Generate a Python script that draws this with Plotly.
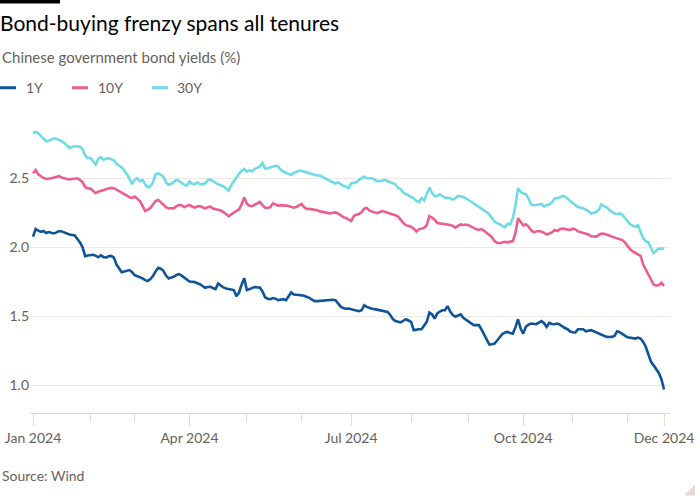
import pandas as pd
import plotly.graph_objects as go

# ---------------- data ----------------
# Trading calendar of the Chinese bond market, 2 Jan – 20 Dec 2024
holidays = ["2024-01-01", "2024-02-09", "2024-02-12", "2024-02-13", "2024-02-14",
            "2024-02-15", "2024-02-16", "2024-04-04", "2024-04-05", "2024-05-01",
            "2024-05-02", "2024-05-03", "2024-06-10", "2024-09-16", "2024-09-17",
            "2024-10-01", "2024-10-02", "2024-10-03", "2024-10-04", "2024-10-07"]
weekend_workdays = ["2024-02-04", "2024-02-18", "2024-04-07", "2024-04-28",
                    "2024-05-11", "2024-09-14", "2024-09-29", "2024-10-12"]

trading_days = pd.bdate_range("2024-01-02", "2024-12-20")
trading_days = trading_days.drop(pd.to_datetime(holidays), errors="ignore")
trading_days = trading_days.union(pd.to_datetime(weekend_workdays)).sort_values()
dates = [d.strftime("%Y-%m-%d") for d in trading_days]

yield_1y = [
    2.077, 2.132, 2.12, 2.112, 2.118, 2.103, 2.11, 2.105, 2.1, 2.108,
    2.118, 2.115, 2.105, 2.1, 2.092, 2.088, 2.085, 2.06, 2.035, 2.0,
    1.935, 1.94, 1.944, 1.946, 1.94, 1.928, 1.942, 1.93, 1.925, 1.935,
    1.938, 1.925, 1.875, 1.845, 1.82, 1.825, 1.832, 1.835, 1.82, 1.798,
    1.79, 1.785, 1.775, 1.762, 1.755, 1.77, 1.792, 1.825, 1.852, 1.845,
    1.83, 1.795, 1.774, 1.782, 1.786, 1.8, 1.806, 1.795, 1.78, 1.762,
    1.752, 1.75, 1.748, 1.74, 1.733, 1.72, 1.707, 1.712, 1.714, 1.705,
    1.697, 1.738, 1.72, 1.709, 1.702, 1.697, 1.694, 1.69, 1.645, 1.672,
    1.73, 1.775, 1.69, 1.698, 1.705, 1.712, 1.71, 1.709, 1.68, 1.638,
    1.628, 1.624, 1.632, 1.628, 1.617, 1.622, 1.624, 1.617, 1.648, 1.673,
    1.658, 1.654, 1.654, 1.652, 1.649, 1.64, 1.634, 1.62, 1.61, 1.61,
    1.612, 1.615, 1.617, 1.62, 1.622, 1.62, 1.617, 1.595, 1.57, 1.56,
    1.555, 1.557, 1.552, 1.552, 1.545, 1.537, 1.544, 1.58, 1.568, 1.56,
    1.555, 1.552, 1.548, 1.544, 1.538, 1.532, 1.532, 1.51, 1.48, 1.466,
    1.46, 1.456, 1.468, 1.479, 1.47, 1.46, 1.40, 1.405, 1.407, 1.407,
    1.43, 1.46, 1.527, 1.515, 1.484, 1.52, 1.535, 1.544, 1.544, 1.574,
    1.535, 1.51, 1.497, 1.508, 1.515, 1.49, 1.475, 1.46, 1.448, 1.436,
    1.436, 1.436, 1.405, 1.37, 1.327, 1.295, 1.298, 1.303, 1.325, 1.35,
    1.372, 1.383, 1.387, 1.38, 1.375, 1.42, 1.479, 1.412, 1.375, 1.425,
    1.44, 1.448, 1.445, 1.443, 1.455, 1.465, 1.45, 1.424, 1.453, 1.445,
    1.443, 1.448, 1.44, 1.424, 1.415, 1.407, 1.39, 1.385, 1.383, 1.407,
    1.405, 1.407, 1.392, 1.395, 1.4, 1.392, 1.383, 1.375, 1.368, 1.36,
    1.351, 1.35, 1.351, 1.358, 1.392, 1.385, 1.375, 1.36, 1.348, 1.344,
    1.34, 1.339, 1.346, 1.339, 1.315, 1.28, 1.225, 1.17, 1.145, 1.118,
    1.09, 1.045, 0.97,
]

yield_10y = [
    2.536, 2.56, 2.528, 2.512, 2.502, 2.495, 2.495, 2.5, 2.505, 2.512,
    2.515, 2.505, 2.498, 2.494, 2.492, 2.495, 2.498, 2.5, 2.488, 2.47,
    2.435, 2.427, 2.425, 2.405, 2.392, 2.403, 2.41, 2.415, 2.42, 2.425,
    2.43, 2.428, 2.418, 2.41, 2.4, 2.385, 2.375, 2.362, 2.358, 2.367,
    2.352, 2.335, 2.3, 2.263, 2.272, 2.285, 2.31, 2.335, 2.343, 2.325,
    2.306, 2.29, 2.282, 2.28, 2.283, 2.298, 2.306, 2.305, 2.29, 2.3,
    2.306, 2.295, 2.288, 2.295, 2.299, 2.29, 2.282, 2.29, 2.294, 2.28,
    2.275, 2.272, 2.266, 2.255, 2.24, 2.225, 2.238, 2.252, 2.262, 2.275,
    2.31, 2.36, 2.315, 2.3, 2.298, 2.31, 2.318, 2.328, 2.305, 2.287,
    2.285, 2.29, 2.318, 2.31, 2.302, 2.305, 2.306, 2.302, 2.299, 2.29,
    2.287, 2.292, 2.302, 2.314, 2.29, 2.277, 2.278, 2.276, 2.272, 2.268,
    2.26, 2.256, 2.253, 2.25, 2.246, 2.25, 2.253, 2.245, 2.23, 2.218,
    2.212, 2.203, 2.19, 2.225, 2.236, 2.24, 2.255, 2.28, 2.285, 2.265,
    2.258, 2.253, 2.247, 2.255, 2.262, 2.256, 2.25, 2.246, 2.238, 2.232,
    2.222, 2.195, 2.175, 2.16, 2.155, 2.149, 2.135, 2.115, 2.13, 2.135,
    2.14, 2.16, 2.225, 2.215, 2.2, 2.175, 2.172, 2.174, 2.168, 2.165,
    2.162, 2.155, 2.142, 2.155, 2.166, 2.162, 2.165, 2.16, 2.148, 2.14,
    2.13, 2.126, 2.132, 2.12, 2.108, 2.09, 2.072, 2.045, 2.033, 2.03,
    2.035, 2.04, 2.036, 2.038, 2.045, 2.1, 2.21, 2.185, 2.158, 2.166,
    2.15, 2.125, 2.108, 2.115, 2.118, 2.112, 2.105, 2.092, 2.1, 2.108,
    2.125, 2.118, 2.13, 2.135, 2.132, 2.128, 2.125, 2.135, 2.13, 2.115,
    2.11, 2.108, 2.1, 2.093, 2.08, 2.077, 2.077, 2.09, 2.1, 2.098,
    2.093, 2.085, 2.077, 2.07, 2.062, 2.055, 2.052, 2.035, 2.005, 1.985,
    1.97, 1.958, 1.95, 1.938, 1.875, 1.84, 1.805, 1.772, 1.73, 1.722,
    1.726, 1.742, 1.72,
]

yield_30y = [
    2.827, 2.835, 2.825, 2.805, 2.785, 2.768, 2.772, 2.778, 2.789, 2.785,
    2.778, 2.768, 2.755, 2.735, 2.72, 2.728, 2.73, 2.732, 2.728, 2.71,
    2.665, 2.645, 2.648, 2.625, 2.6, 2.64, 2.652, 2.635, 2.642, 2.645,
    2.638, 2.63, 2.605, 2.59, 2.578, 2.555, 2.53, 2.495, 2.458, 2.49,
    2.5, 2.478, 2.488, 2.455, 2.435, 2.44, 2.47, 2.53, 2.535, 2.525,
    2.51, 2.47, 2.452, 2.46, 2.475, 2.488, 2.48, 2.468, 2.452, 2.447,
    2.476, 2.46, 2.456, 2.47, 2.458, 2.456, 2.464, 2.485, 2.492, 2.48,
    2.465, 2.456, 2.45, 2.442, 2.425, 2.41, 2.45, 2.48, 2.51, 2.532,
    2.555, 2.568, 2.548, 2.558, 2.55, 2.568, 2.575, 2.585, 2.61, 2.57,
    2.572, 2.578, 2.588, 2.59, 2.585, 2.56, 2.548, 2.54, 2.53, 2.524,
    2.538, 2.548, 2.556, 2.552, 2.548, 2.54, 2.536, 2.53, 2.524, 2.52,
    2.52, 2.508, 2.5, 2.49, 2.48, 2.468, 2.462, 2.47, 2.455, 2.445,
    2.44, 2.427, 2.462, 2.468, 2.47, 2.488, 2.5, 2.512, 2.5, 2.502,
    2.5, 2.49, 2.478, 2.478, 2.482, 2.488, 2.478, 2.47, 2.462, 2.456,
    2.43, 2.42, 2.395, 2.385, 2.375, 2.368, 2.355, 2.335, 2.326, 2.355,
    2.34, 2.385, 2.432, 2.395, 2.37, 2.372, 2.384, 2.37, 2.36, 2.358,
    2.355, 2.345, 2.355, 2.372, 2.368, 2.365, 2.355, 2.343, 2.33, 2.315,
    2.305, 2.294, 2.285, 2.27, 2.255, 2.238, 2.21, 2.186, 2.175, 2.168,
    2.155, 2.145, 2.17, 2.165, 2.21, 2.3, 2.427, 2.4, 2.39, 2.384,
    2.355, 2.31, 2.305, 2.306, 2.31, 2.314, 2.295, 2.306, 2.31, 2.325,
    2.352, 2.358, 2.36, 2.372, 2.366, 2.352, 2.335, 2.322, 2.305, 2.292,
    2.288, 2.282, 2.272, 2.262, 2.245, 2.248, 2.255, 2.272, 2.31, 2.298,
    2.29, 2.27, 2.255, 2.246, 2.24, 2.245, 2.235, 2.212, 2.188, 2.166,
    2.155, 2.15, 2.16, 2.11, 2.065, 2.045, 2.036, 1.995, 1.958, 1.975,
    1.992, 1.99, 1.99,
]

series_names = ["1Y", "10Y", "30Y"]
series_values = [yield_1y, yield_10y, yield_30y]
series_colors = ["#0f5499", "#eb5e8d", "#6fdbe6"]

y_tick_values = [1.0, 1.5, 2.0, 2.5]
x_major_ticks = ["2024-01-02", "2024-04-01", "2024-07-01", "2024-10-08", "2024-12-20"]
x_major_labels = ["Jan 2024", "Apr 2024", "Jul 2024", "Oct 2024", "Dec 2024"]
x_minor_ticks = ["2024-02-01", "2024-03-01", "2024-05-06", "2024-06-03",
                 "2024-08-01", "2024-09-02", "2024-11-01", "2024-12-02"]

# non-trading calendar days inside the data span -> axis breaks
all_days = pd.date_range("2024-01-02", "2024-12-20", freq="D")
break_days = [d.strftime("%Y-%m-%d") for d in all_days.difference(trading_days)]

# ---------------- layout helpers ----------------
W, H = 700, 500
L, R, T, B = 30, 670, 123.2, 412.7


def px_x(px):
    return (px - L) / (R - L)


def px_y(py):
    return (B - py) / (B - T)


FONT = "Lato, 'Open Sans', sans-serif"
GREY = "#66605c"
LINECOL = "#e6d9ce"
GRIDCOL = "#efe9e4"

fig = go.Figure()
for name, vals, col in zip(series_names[::-1], series_values[::-1], series_colors[::-1]):
    fig.add_trace(go.Scatter(x=dates, y=vals, mode="lines", name=name,
                             line=dict(color=col, width=2.6), showlegend=False,
                             hovertemplate="%{x|%d %b %Y}: %{y:.2f}%<extra>" + name + "</extra>"))

fig.update_layout(
    width=W, height=H,
    margin=dict(l=L, r=W - R, t=T, b=H - B, pad=0, autoexpand=False),
    paper_bgcolor="white", plot_bgcolor="white",
    font=dict(family=FONT, color=GREY, size=14),
    title=dict(text="Bond-buying frenzy spans all tenures", x=0, xref="container",
               xanchor="left", y=1 - 24 / H, yref="container", yanchor="middle",
               pad=dict(l=0, r=0, t=0, b=0),
               font=dict(size=21, color="#000000", family=FONT)),
    xaxis=dict(
        type="date", automargin=False,
        range=["2023-12-31 20:00", "2024-12-22 07:00"],
        rangebreaks=[dict(values=break_days)],
        tickmode="array", tickvals=x_major_ticks, ticktext=x_major_labels,
        ticks="outside", ticklen=12, tickwidth=1, tickcolor=LINECOL,
        showline=True, linecolor=LINECOL, linewidth=1,
        showgrid=False, zeroline=False,
        tickfont=dict(size=14, color=GREY),
        minor=dict(tickmode="array", tickvals=x_minor_ticks, ticks="outside",
                   ticklen=8, tickwidth=1, tickcolor=LINECOL, showgrid=False),
    ),
    yaxis=dict(
        automargin=False,
        range=[0.8, 2.9], tickmode="array", tickvals=y_tick_values, tickformat=".1f",
        showgrid=True, gridcolor=GRIDCOL, gridwidth=1, zeroline=False,
        showline=False, ticks="", tickfont=dict(size=14, color=GREY),
    ),
)

annotations = [
    dict(text="Chinese government bond yields (%)", x=px_x(0), y=px_y(57),
         xanchor="left", yanchor="middle", font=dict(size=15, color=GREY)),
    dict(text="Source: Wind", x=px_x(0), y=px_y(475),
         xanchor="left", yanchor="middle", font=dict(size=14, color=GREY)),
]
shapes = [
    dict(type="rect", x0=px_x(0), x1=px_x(60), y0=px_y(0), y1=px_y(4),
         fillcolor="#000000", line=dict(width=0)),
    dict(type="path",
         path=f"M {px_x(695)},{px_y(484)} L {px_x(695)},{px_y(495)} L {px_x(684)},{px_y(495)} Z",
         fillcolor=LINECOL, line=dict(width=0)),
]

legend_swatch_x = [0, 72, 152]
legend_text_x = [24, 96, 175]
for name, col, sx, tx in zip(series_names, series_colors, legend_swatch_x, legend_text_x):
    shapes.append(dict(type="line", x0=px_x(sx), x1=px_x(sx + 16), y0=px_y(88), y1=px_y(88),
                       line=dict(color=col, width=3)))
    annotations.append(dict(text=name, x=px_x(tx), y=px_y(88), xanchor="left",
                            yanchor="middle", font=dict(size=14, color=GREY)))

for a in annotations:
    a.update(xref="paper", yref="paper", showarrow=False)
for s in shapes:
    s.update(xref="paper", yref="paper", layer="above")

fig.update_layout(annotations=annotations, shapes=shapes)
fig.write_html("out.html", config={"displayModeBar": False})

# remove the browser's default page margin so the 700x500 figure sits at the window origin
with open("out.html", encoding="utf-8") as f:
    html = f.read()
html = html.replace("<body>", '<body style="margin:0;padding:0;">', 1)
with open("out.html", "w", encoding="utf-8") as f:
    f.write(html)
